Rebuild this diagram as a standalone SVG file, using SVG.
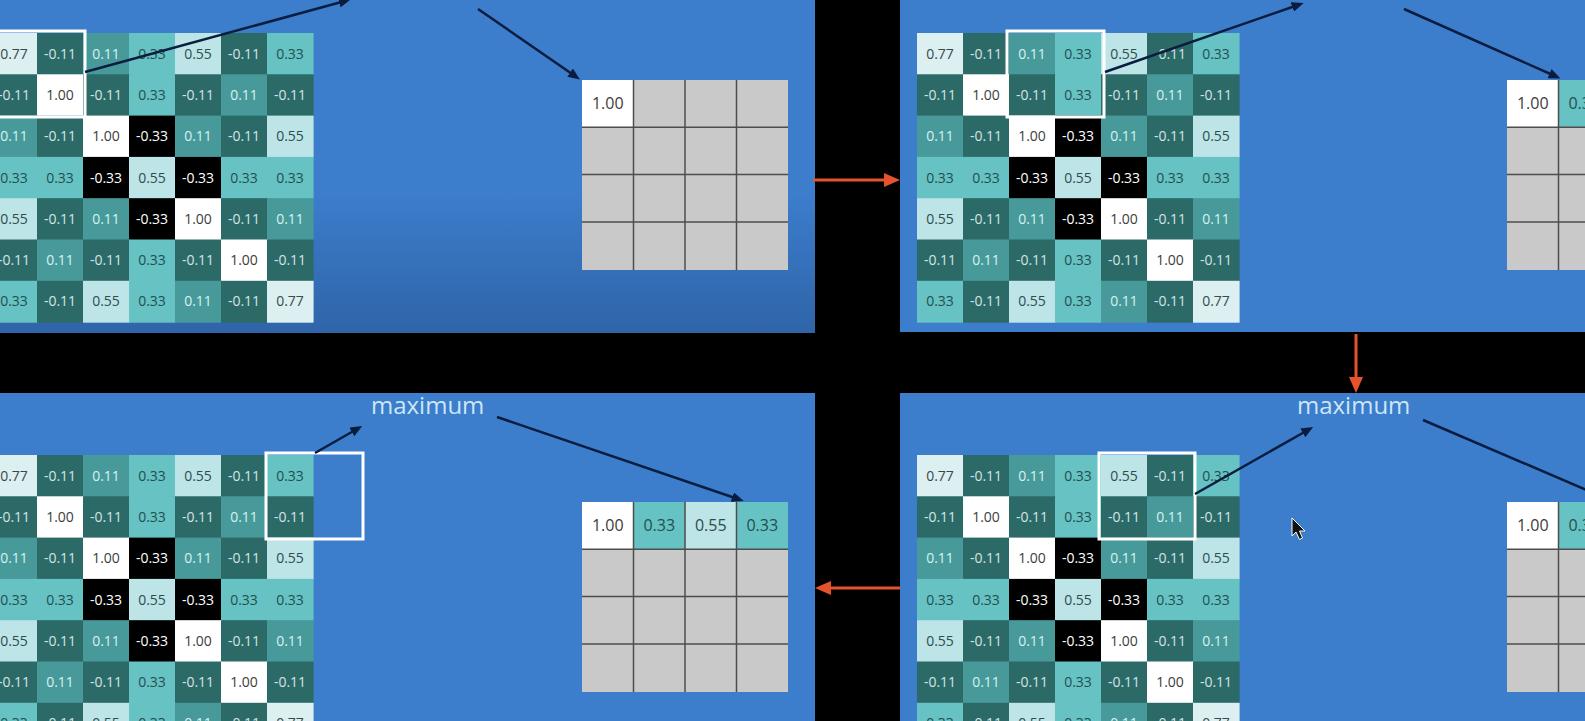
<svg xmlns="http://www.w3.org/2000/svg" xmlns:xlink="http://www.w3.org/1999/xlink" width="1585" height="721" viewBox="0 0 1585 721">
<style>
text{font-family:"Open Sans","Liberation Sans",sans-serif}
.m text{font-size:14px;text-anchor:middle}
.m rect{width:46.6px;height:41.9px}
.p100 rect{fill:#ffffff}.p100 text{fill:#3c3c3c}
.p77 rect{fill:#dcf0f2}.p77 text{fill:#3a4848}
.p55 rect{fill:#bde4e6}.p55 text{fill:#2e4d4e}
.p33 rect{fill:#67c2c3}.p33 text{fill:#23504f}
.p11 rect{fill:#489a9a}.p11 text{fill:#d4f2f2}
.n11 rect{fill:#2c6a68}.n11 text{fill:#d3e4e4}
.n33 rect{fill:#000000}.n33 text{fill:#ffffff}
.panel{fill:#3c7dcc}
.sel{fill:none;stroke:#ffffff;stroke-width:3}
.seli{fill:none;stroke:#1d3b3a;stroke-width:1}
.arr{stroke:#0b1d3f;stroke-width:2.5;marker-end:url(#ah);fill:none}
.red{stroke:#e4532b;stroke-width:3;marker-end:url(#rh);fill:none}
.label{font-size:24px;fill:#cde6f7}
.o text{font-size:16px;text-anchor:middle}
.obg{fill:#c9c9c9}
.gl{stroke:#4d4d4d;stroke-width:1.5}
</style>
<defs>
<linearGradient id="tlg" x1="0" y1="0" x2="0" y2="1">
<stop offset="0" stop-color="#3c7dcc"/>
<stop offset="0.62" stop-color="#3c7dcc"/>
<stop offset="1" stop-color="#2f64a8"/>
</linearGradient>
<marker id="ah" markerUnits="userSpaceOnUse" markerWidth="12" markerHeight="10" refX="6" refY="5" orient="auto">
<path d="M0,0 L12,5 L0,10 z" fill="#0b1d3f"/>
</marker>
<marker id="rh" markerUnits="userSpaceOnUse" markerWidth="16" markerHeight="14" refX="8" refY="7" orient="auto">
<path d="M0,0 L16,7 L0,14 z" fill="#e4532b"/>
</marker>
<g id="mx" class="m">
<g class="p77"><rect x="0" y="0"/><text x="23" y="25.6">0.77</text></g>
<g class="n11"><rect x="46" y="0"/><text x="69" y="25.6">-0.11</text></g>
<g class="p11"><rect x="92" y="0"/><text x="115" y="25.6">0.11</text></g>
<g class="p33"><rect x="138" y="0"/><text x="161" y="25.6">0.33</text></g>
<g class="p55"><rect x="184" y="0"/><text x="207" y="25.6">0.55</text></g>
<g class="n11"><rect x="230" y="0"/><text x="253" y="25.6">-0.11</text></g>
<g class="p33"><rect x="276" y="0"/><text x="299" y="25.6">0.33</text></g>

<g class="n11"><rect x="0" y="41.3"/><text x="23" y="66.9">-0.11</text></g>
<g class="p100"><rect x="46" y="41.3"/><text x="69" y="66.9">1.00</text></g>
<g class="n11"><rect x="92" y="41.3"/><text x="115" y="66.9">-0.11</text></g>
<g class="p33"><rect x="138" y="41.3"/><text x="161" y="66.9">0.33</text></g>
<g class="n11"><rect x="184" y="41.3"/><text x="207" y="66.9">-0.11</text></g>
<g class="p11"><rect x="230" y="41.3"/><text x="253" y="66.9">0.11</text></g>
<g class="n11"><rect x="276" y="41.3"/><text x="299" y="66.9">-0.11</text></g>

<g class="p11"><rect x="0" y="82.6"/><text x="23" y="108.2">0.11</text></g>
<g class="n11"><rect x="46" y="82.6"/><text x="69" y="108.2">-0.11</text></g>
<g class="p100"><rect x="92" y="82.6"/><text x="115" y="108.2">1.00</text></g>
<g class="n33"><rect x="138" y="82.6"/><text x="161" y="108.2">-0.33</text></g>
<g class="p11"><rect x="184" y="82.6"/><text x="207" y="108.2">0.11</text></g>
<g class="n11"><rect x="230" y="82.6"/><text x="253" y="108.2">-0.11</text></g>
<g class="p55"><rect x="276" y="82.6"/><text x="299" y="108.2">0.55</text></g>

<g class="p33"><rect x="0" y="123.9"/><text x="23" y="149.5">0.33</text></g>
<g class="p33"><rect x="46" y="123.9"/><text x="69" y="149.5">0.33</text></g>
<g class="n33"><rect x="92" y="123.9"/><text x="115" y="149.5">-0.33</text></g>
<g class="p55"><rect x="138" y="123.9"/><text x="161" y="149.5">0.55</text></g>
<g class="n33"><rect x="184" y="123.9"/><text x="207" y="149.5">-0.33</text></g>
<g class="p33"><rect x="230" y="123.9"/><text x="253" y="149.5">0.33</text></g>
<g class="p33"><rect x="276" y="123.9"/><text x="299" y="149.5">0.33</text></g>

<g class="p55"><rect x="0" y="165.2"/><text x="23" y="190.8">0.55</text></g>
<g class="n11"><rect x="46" y="165.2"/><text x="69" y="190.8">-0.11</text></g>
<g class="p11"><rect x="92" y="165.2"/><text x="115" y="190.8">0.11</text></g>
<g class="n33"><rect x="138" y="165.2"/><text x="161" y="190.8">-0.33</text></g>
<g class="p100"><rect x="184" y="165.2"/><text x="207" y="190.8">1.00</text></g>
<g class="n11"><rect x="230" y="165.2"/><text x="253" y="190.8">-0.11</text></g>
<g class="p11"><rect x="276" y="165.2"/><text x="299" y="190.8">0.11</text></g>

<g class="n11"><rect x="0" y="206.5"/><text x="23" y="232.1">-0.11</text></g>
<g class="p11"><rect x="46" y="206.5"/><text x="69" y="232.1">0.11</text></g>
<g class="n11"><rect x="92" y="206.5"/><text x="115" y="232.1">-0.11</text></g>
<g class="p33"><rect x="138" y="206.5"/><text x="161" y="232.1">0.33</text></g>
<g class="n11"><rect x="184" y="206.5"/><text x="207" y="232.1">-0.11</text></g>
<g class="p100"><rect x="230" y="206.5"/><text x="253" y="232.1">1.00</text></g>
<g class="n11"><rect x="276" y="206.5"/><text x="299" y="232.1">-0.11</text></g>

<g class="p33"><rect x="0" y="247.8"/><text x="23" y="273.4">0.33</text></g>
<g class="n11"><rect x="46" y="247.8"/><text x="69" y="273.4">-0.11</text></g>
<g class="p55"><rect x="92" y="247.8"/><text x="115" y="273.4">0.55</text></g>
<g class="p33"><rect x="138" y="247.8"/><text x="161" y="273.4">0.33</text></g>
<g class="p11"><rect x="184" y="247.8"/><text x="207" y="273.4">0.11</text></g>
<g class="n11"><rect x="230" y="247.8"/><text x="253" y="273.4">-0.11</text></g>
<g class="p77"><rect x="276" y="247.8"/><text x="299" y="273.4">0.77</text></g>
</g>
<g id="glines" class="gl">
<line x1="51.5" y1="0" x2="51.5" y2="190"/>
<line x1="103" y1="0" x2="103" y2="190"/>
<line x1="154.5" y1="0" x2="154.5" y2="190"/>
<line x1="0" y1="47.3" x2="206" y2="47.3"/>
<line x1="0" y1="94.6" x2="206" y2="94.6"/>
<line x1="0" y1="141.9" x2="206" y2="141.9"/>
</g>
</defs>

<rect x="0" y="0" width="1585" height="721" fill="#000000"/>

<g id="panel-top-left">
<rect x="-30" y="-30" width="845" height="363" fill="url(#tlg)"/>
<use href="#mx" x="-9" y="33"/>
<rect class="sel" x="-12" y="31" width="97" height="86"/>
<g id="out-top-left" class="o">
<rect class="obg" x="582" y="80" width="206" height="190"/>
<rect x="582" y="80" width="51.5" height="47.3" fill="#ffffff"/>
<use href="#glines" x="582" y="80"/>
<text x="607.75" y="109" fill="#3c3c3c">1.00</text>
</g>
</g>

<g id="panel-top-right">
<rect class="panel" x="900" y="-30" width="700" height="362"/>
<use href="#mx" x="917" y="33"/>
<rect class="sel" x="1007" y="31" width="97" height="86"/>
<g id="out-top-right" class="o">
<rect class="obg" x="1507" y="80" width="206" height="190"/>
<rect x="1507" y="80" width="51.5" height="47.3" fill="#ffffff"/>
<rect x="1558.5" y="80" width="51.5" height="47.3" fill="#67c2c3"/>
<use href="#glines" x="1507" y="80"/>
<text x="1532.75" y="109" fill="#3c3c3c">1.00</text>
<text x="1584.25" y="109" fill="#23504f">0.33</text>
</g>
</g>

<g id="panel-bottom-left">
<rect class="panel" x="-30" y="393" width="845" height="340"/>
<use href="#mx" x="-9" y="455"/>
<rect class="sel" x="266" y="453" width="97" height="86"/>
<text class="label" x="371" y="414">maximum</text>
<g id="out-bottom-left" class="o">
<rect class="obg" x="582" y="502" width="206" height="190"/>
<rect x="582" y="502" width="51.5" height="47.3" fill="#ffffff"/>
<rect x="633.5" y="502" width="51.5" height="47.3" fill="#67c2c3"/>
<rect x="685" y="502" width="51.5" height="47.3" fill="#bde4e6"/>
<rect x="736.5" y="502" width="51.5" height="47.3" fill="#67c2c3"/>
<use href="#glines" x="582" y="502"/>
<text x="607.75" y="531" fill="#3c3c3c">1.00</text>
<text x="659.25" y="531" fill="#23504f">0.33</text>
<text x="710.75" y="531" fill="#2e4d4e">0.55</text>
<text x="762.25" y="531" fill="#23504f">0.33</text>
</g>
</g>

<g id="panel-bottom-right">
<rect class="panel" x="900" y="393" width="700" height="340"/>
<use href="#mx" x="917" y="455"/>
<rect class="sel" x="1099" y="453" width="96" height="86"/>
<text class="label" x="1297" y="414">maximum</text>
<g id="out-bottom-right" class="o">
<rect class="obg" x="1507" y="502" width="206" height="190"/>
<rect x="1507" y="502" width="51.5" height="47.3" fill="#ffffff"/>
<rect x="1558.5" y="502" width="51.5" height="47.3" fill="#67c2c3"/>
<use href="#glines" x="1507" y="502"/>
<text x="1532.75" y="531" fill="#3c3c3c">1.00</text>
<text x="1584.25" y="531" fill="#23504f">0.33</text>
</g>
<polygon id="cursor" points="1292,518 1292,536 1296,532 1299.5,539.5 1302.5,538 1299.5,531 1305,531" fill="#111111" stroke="#ffffff" stroke-width="1"/>
</g>

<g id="connectors">
<line class="arr" x1="85" y1="72" x2="345" y2="1"/>
<line class="arr" x1="478" y1="9" x2="575" y2="76"/>
<line class="arr" x1="1105" y1="72" x2="1298" y2="5"/>
<line class="arr" x1="1404" y1="9" x2="1555" y2="76"/>
<line class="arr" x1="315" y1="453" x2="357" y2="429"/>
<line class="arr" x1="497" y1="417" x2="738" y2="499"/>
<line class="arr" x1="1195" y1="494" x2="1308" y2="430"/>
<line class="arr" x1="1423" y1="420" x2="1610" y2="500"/>
<line class="red" x1="813" y1="180" x2="892" y2="180"/>
<line class="red" x1="1356" y1="334" x2="1356" y2="385"/>
<line class="red" x1="900" y1="588" x2="823" y2="588"/>
</g>
</svg>
